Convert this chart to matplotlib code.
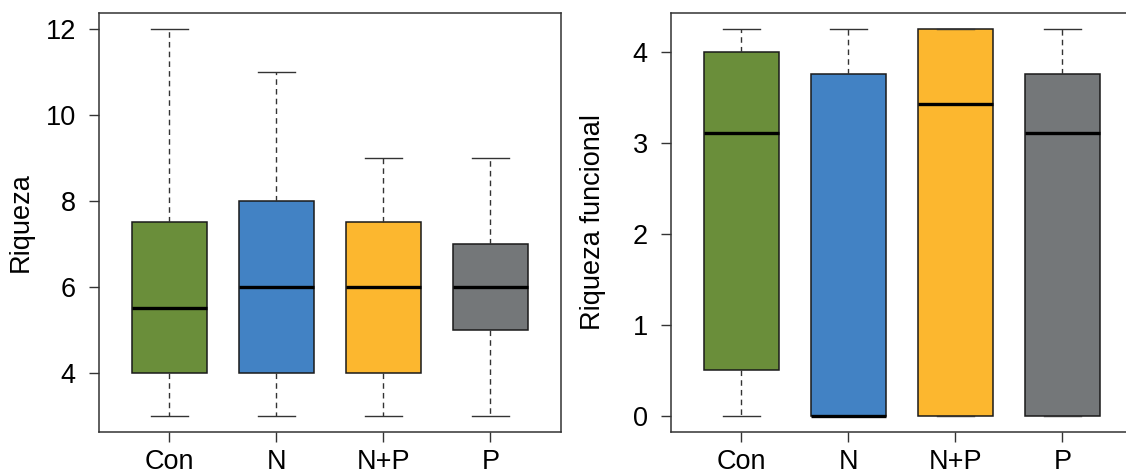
import matplotlib
matplotlib.use('Agg')
import matplotlib.pyplot as plt

plt.rcParams['font.family'] = ['Liberation Sans', 'DejaVu Sans']
plt.rcParams['font.size'] = 19.5

categories = ['Con', 'N', 'N+P', 'P']
colors = ['#6a8e3a', '#4282c4', '#fcb72f', '#747779']

# riqueza: min, q1, median, q3, max
riq_min = [3, 3, 3, 3]
riq_q1 = [4, 4, 4, 5]
riq_med = [5.5, 6, 6, 6]
riq_q3 = [7.5, 8, 7.5, 7]
riq_max = [12, 11, 9, 9]

# riqueza funcional
fun_min = [0, 0, 0, 0]
fun_q1 = [0.5, 0, 0, 0]
fun_med = [3.11, 0, 3.42, 3.11]
fun_q3 = [4.0, 3.75, 4.25, 3.75]
fun_max = [4.25, 4.25, 4.25, 4.25]

W, H = 1126, 475
fig = plt.figure(figsize=(W / 100, H / 100), dpi=100)


def make_stats(lo, q1, med, q3, hi):
    return [dict(whislo=a, q1=b, med=c, q3=d, whishi=e, fliers=[])
            for a, b, c, d, e in zip(lo, q1, med, q3, hi)]


def panel(rect, stats, yticks, ylabel):
    ax = fig.add_axes(rect)
    res = ax.bxp(stats, positions=range(1, 5), widths=0.7, capwidths=0.35,
                 patch_artist=True, showfliers=False,
                 boxprops=dict(edgecolor='#1a1a1a', linewidth=1.1),
                 medianprops=dict(color='black', linewidth=2.4),
                 whiskerprops=dict(color='#333333', linewidth=1.0, linestyle=(0, (4, 3))),
                 capprops=dict(color='#333333', linewidth=1.0))
    for box, c in zip(res['boxes'], colors):
        box.set_facecolor(c)
    lo = min(s['whislo'] for s in stats)
    hi = max(s['whishi'] for s in stats)
    pad = (hi - lo) * 0.04
    ax.set_ylim(lo - pad, hi + pad)
    ax.set_xlim(0.34, 4.66)
    ax.set_xticks(range(1, 5))
    ax.set_xticklabels(categories)
    ax.set_yticks(yticks)
    ax.set_yticklabels([str(t) for t in yticks])
    for s in ax.spines.values():
        s.set_color('#333333')
        s.set_linewidth(1.1)
    ax.tick_params(axis='both', length=7.5, width=1.0, color='#333333')
    ax.tick_params(axis='y', pad=9)
    ax.tick_params(axis='x', pad=5)
    ax.set_ylabel(ylabel)
    ax.yaxis.label.set_va('center')
    ax.yaxis.set_label_coords(-0.168, 0.5)
    return ax


ax1 = panel([98.7 / W, 43.5 / H, 462.3 / W, 418.2 / H],
            make_stats(riq_min, riq_q1, riq_med, riq_q3, riq_max),
            [4, 6, 8, 10, 12], 'Riqueza')
ax2 = panel([670.7 / W, 43.5 / H, 462.3 / W, 418.2 / H],
            make_stats(fun_min, fun_q1, fun_med, fun_q3, fun_max),
            [0, 1, 2, 3, 4], 'Riqueza funcional')

fig.savefig('out.png', dpi=100)
